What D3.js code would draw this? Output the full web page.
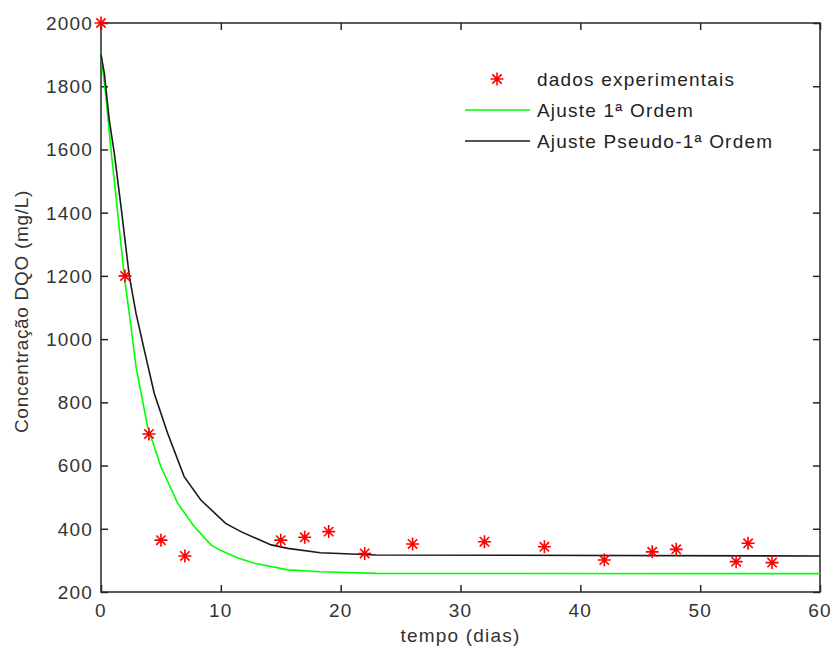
<!DOCTYPE html>
<html>
<head>
<meta charset="utf-8">
<script src="https://cdn.jsdelivr.net/npm/d3@7"></script>
<style>
  body { margin: 0; background: #fff; }
  text { font-family: "Liberation Sans", Arial, sans-serif; }
</style>
</head>
<body>
<div id="chart"></div>
<script>
// experimental points
var tempoDados = [0, 2, 4, 5, 7, 15, 17, 19, 22, 26, 32, 37, 42, 46, 48, 53, 54, 56];
var dqoDados   = [2000, 1200, 700, 364, 314, 364, 373, 391, 322, 352, 359, 343, 301, 327, 335, 296, 354, 293];

// fitted curves
var tempoAjuste1 = [0, 0.4, 0.83, 1.39, 1.94, 2.5, 2.92, 3.89, 5.0, 6.39, 7.78, 9.17, 10, 11.5, 12.8, 15.6, 18.3, 23, 60];
var dqoAjuste1   = [1900, 1770, 1600, 1400, 1200, 1040, 913, 723, 596, 481, 407, 349, 331, 307, 291, 270, 264, 259, 258];

var tempoPseudo = [0, 0.28, 0.69, 1.11, 1.67, 2.36, 2.92, 3.61, 4.44, 5.56, 6.94, 8.33, 10.4, 11.67, 14.2, 15.6, 18.3, 23, 60];
var dqoPseudo   = [1900, 1841, 1693, 1588, 1419, 1200, 1082, 966, 829, 702, 565, 491, 417, 391, 349, 338, 324, 317, 314];

var xTicks = [0, 10, 20, 30, 40, 50, 60];
var yTicks = [200, 400, 600, 800, 1000, 1200, 1400, 1600, 1800, 2000];

var legendLabels = ["dados experimentais", "Ajuste 1ª Ordem", "Ajuste Pseudo-1ª Ordem"];

var W = 833, H = 648;
var margin = {top: 23, right: 13, bottom: 56, left: 101};
var width = W - margin.left - margin.right,
    height = H - margin.top - margin.bottom;

var axisColor = "#262626";

var svg = d3.select("#chart").append("svg")
  .attr("width", W)
  .attr("height", H);

var g = svg.append("g")
  .attr("transform", "translate(" + margin.left + "," + margin.top + ")");

var x = d3.scaleLinear().domain([0, 60]).range([0, width]);
var y = d3.scaleLinear().domain([200, 2000]).range([height, 0]);

// axes, ticks pointing inward on all four sides
var xBottom = d3.axisTop(x).tickValues(xTicks).tickSize(7).tickFormat("");
var xTop = d3.axisBottom(x).tickValues(xTicks).tickSize(7).tickFormat("");
var yLeft = d3.axisRight(y).tickValues(yTicks).tickSize(7).tickFormat("");
var yRight = d3.axisLeft(y).tickValues(yTicks).tickSize(7).tickFormat("");

g.append("g").attr("transform", "translate(0," + height + ")").call(xBottom);
g.append("g").call(xTop);
g.append("g").call(yLeft);
g.append("g").attr("transform", "translate(" + width + ",0)").call(yRight);

g.selectAll(".domain").remove();
g.selectAll(".tick line").attr("stroke", axisColor).attr("stroke-width", 1.5);

g.append("rect")
  .attr("width", width).attr("height", height)
  .attr("fill", "none")
  .attr("stroke", axisColor)
  .attr("stroke-width", 1.5);

// tick labels
g.selectAll(".xlab").data(xTicks).enter().append("text")
  .attr("x", function(d) { return x(d); })
  .attr("y", height + 25)
  .attr("text-anchor", "middle")
  .attr("font-size", 19)
  .attr("letter-spacing", 1.2)
  .attr("fill", "#333")
  .text(function(d) { return d; });

g.selectAll(".ylab").data(yTicks).enter().append("text")
  .attr("x", -8)
  .attr("y", function(d) { return y(d); })
  .attr("dy", "0.36em")
  .attr("text-anchor", "end")
  .attr("font-size", 19)
  .attr("letter-spacing", 1.2)
  .attr("fill", "#333")
  .text(function(d) { return d; });

// axis titles
svg.append("text")
  .attr("x", margin.left + width / 2)
  .attr("y", 642)
  .attr("text-anchor", "middle")
  .attr("font-size", 19)
  .attr("letter-spacing", 1.2)
  .attr("fill", "#333")
  .text("tempo (dias)");

svg.append("text")
  .attr("transform", "translate(28," + (margin.top + height / 2 + 4) + ") rotate(-90)")
  .attr("text-anchor", "middle")
  .attr("font-size", 19)
  .attr("letter-spacing", 0.7)
  .attr("fill", "#333")
  .text("Concentração DQO (mg/L)");

// curves
var line = d3.line()
  .x(function(d) { return x(d[0]); })
  .y(function(d) { return y(d[1]); });

g.append("path")
  .datum(d3.zip(tempoAjuste1, dqoAjuste1))
  .attr("d", line)
  .attr("fill", "none")
  .attr("stroke", "#00ff00")
  .attr("stroke-width", 1.6);

g.append("path")
  .datum(d3.zip(tempoPseudo, dqoPseudo))
  .attr("d", line)
  .attr("fill", "none")
  .attr("stroke", "#1a1a1a")
  .attr("stroke-width", 1.6);

// asterisk marker
function star(cx, cy, r) {
  var d = 0.72 * r;
  return "M" + (cx - r) + "," + cy + "L" + (cx + r) + "," + cy +
         "M" + cx + "," + (cy - r) + "L" + cx + "," + (cy + r) +
         "M" + (cx - d) + "," + (cy - d) + "L" + (cx + d) + "," + (cy + d) +
         "M" + (cx - d) + "," + (cy + d) + "L" + (cx + d) + "," + (cy - d);
}

g.selectAll(".pt").data(d3.zip(tempoDados, dqoDados)).enter().append("path")
  .attr("d", function(d) { return star(x(d[0]), y(d[1]), 6.5); })
  .attr("stroke", "#ff0000")
  .attr("stroke-width", 1.6)
  .attr("fill", "none");

// legend (no box)
var leg = svg.append("g");
leg.append("path")
  .attr("d", star(497, 79, 6.5))
  .attr("stroke", "#ff0000").attr("stroke-width", 1.6).attr("fill", "none");
leg.append("line")
  .attr("x1", 465).attr("x2", 530).attr("y1", 110).attr("y2", 110)
  .attr("stroke", "#00ff00").attr("stroke-width", 1.6);
leg.append("line")
  .attr("x1", 465).attr("x2", 530).attr("y1", 141).attr("y2", 141)
  .attr("stroke", "#1a1a1a").attr("stroke-width", 1.6);

leg.selectAll("text").data(legendLabels).enter().append("text")
  .attr("x", 537)
  .attr("y", function(d, i) { return 79 + i * 31; })
  .attr("dy", "0.36em")
  .attr("font-size", 19)
  .attr("letter-spacing", 1.2)
  .attr("fill", "#222")
  .text(function(d) { return d; });
</script>
</body>
</html>
